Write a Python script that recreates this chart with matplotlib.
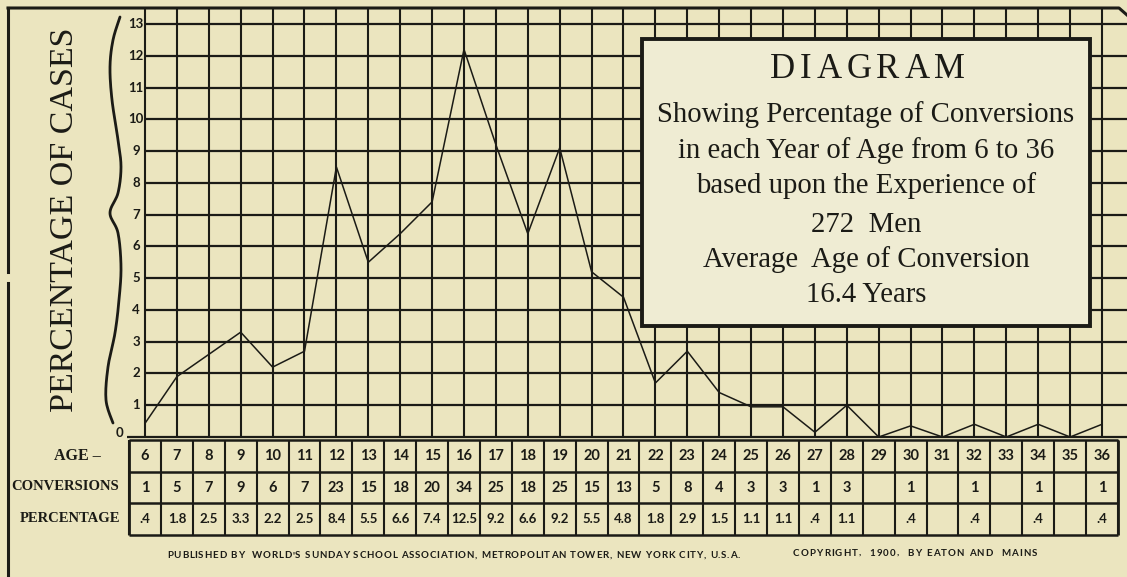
import numpy as np
import matplotlib
matplotlib.use("Agg")
import matplotlib.pyplot as plt
from matplotlib.patches import Rectangle

# ---------------------------------------------------------------- data
ages = list(range(6, 37))
# percentage of cases as drawn by the line
line_pct = [0.43, 1.9, 2.6, 3.3, 2.2, 2.7, 8.5, 5.5, 6.4, 7.4, 12.2, 9.2, 6.4, 9.1, 5.2,
            4.4, 1.7, 2.7, 1.4, 0.95, 0.95, 0.15, 1.0, 0.0, 0.35, 0.0, 0.4, 0.0, 0.4, 0.0, 0.4]
conversions = ["1", "5", "7", "9", "6", "7", "23", "15", "18", "20", "34", "25", "18", "25", "15",
               "13", "5", "8", "4", "3", "3", "1", "3", "", "1", "", "1", "", "1", "", "1"]
percentages = [".4", "1.8", "2.5", "3.3", "2.2", "2.5", "8.4", "5.5", "6.6", "7.4", "12.5", "9.2",
               "6.6", "9.2", "5.5", "4.8", "1.8", "2.9", "1.5", "1.1", "1.1", ".4", "1.1", "",
               ".4", "", ".4", "", ".4", "", ".4"]
y_ticks = list(range(0, 14))
row_labels = ["AGE \u2013", "CONVERSIONS", "PERCENTAGE"]
box_title = "DIAGRAM"
box_lines = ["Showing Percentage of Conversions",
             "in each Year of Age from 6 to 36",
             "based upon the Experience of",
             "272  Men",
             "Average  Age of Conversion",
             "16.4 Years"]
ylabel = "PERCENTAGE OF CASES"
footer_left = "PUBLISHED BY  WORLD'S SUNDAY SCHOOL ASSOCIATION, METROPOLITAN TOWER, NEW YORK CITY, U.S.A."
footer_right = "COPYRIGHT,  1900,  BY EATON AND  MAINS"

# ---------------------------------------------------------------- layout
W, H = 1127, 577
X0_PX, Y0_PX = 145, 437      # pixel of (age 6, 0 %)
CX, CY = 31.9, 31.77         # pixels per year / per percent
PAPER = "#ebe5bf"
BOXFILL = "#efecd3"
INK = "#1b1b16"
SERIF = ["Liberation Serif", "DejaVu Serif"]
SANS = ["Lato", "DejaVu Sans"]

fig = plt.figure(figsize=(W / 100, H / 100), dpi=100, facecolor=PAPER)
ax = fig.add_axes([0, 0, 1, 1])
ax.set_xlim(6 - X0_PX / CX, 6 + (W - X0_PX) / CX)
ax.set_ylim((Y0_PX - H) / CY, Y0_PX / CY)
ax.axis("off")
top_val = (Y0_PX - 8) / CY
right_val = 6 + (W - X0_PX) / CX

# grid
ax.vlines(ages, 0, top_val, color=INK, lw=1.5)
ax.hlines(y_ticks[1:], 6, right_val, color=INK, lw=1.6)
ax.hlines(0, 5.44, right_val, color=INK, lw=1.6)

# curve
ax.plot(ages, line_pct, color=INK, lw=1.1, solid_joinstyle="miter")

# y tick labels
for v in y_ticks:
    if v == 0:
        ax.text(5.2, 0.12, "0", ha="center", va="center", fontsize=9.5,
                fontweight="bold", family=SANS, color=INK)
    else:
        ax.text(5.72, v, str(v), ha="center", va="center", fontsize=9.5,
                fontweight="bold", family=SANS, color=INK)

# table
row_edges = [-0.09, -1.09, -2.09, -3.1]
col_edges = [a - 0.5 for a in ages] + [ages[-1] + 0.5]
ax.vlines(col_edges, row_edges[-1], row_edges[0], color=INK, lw=1.5)
ax.vlines([col_edges[0], col_edges[-1]], row_edges[-1], row_edges[0], color=INK, lw=2)
ax.hlines(row_edges, col_edges[0], col_edges[-1], color=INK, lw=1.8)
rows = [[str(a) for a in ages], conversions, percentages]
for r, vals in enumerate(rows):
    yc = (row_edges[r] + row_edges[r + 1]) / 2
    for a, s in zip(ages, vals):
        ax.text(a, yc, s, ha="center", va="center", fontsize=10.5 if r < 2 else 9.5,
                fontweight="bold", family=SANS, color=INK)

# ---------------------------------------------------------------- decoration in pixel space
deco = fig.add_axes([0, 0, 1, 1])
deco.set_xlim(0, W)
deco.set_ylim(H, 0)
deco.axis("off")
deco.patch.set_alpha(0)
renderer = fig.canvas.get_renderer()


def spaced_text(x_left, y, s, width, **kw):
    # lay the letters of s out one by one so the string spans `width` pixels
    chars = [deco.text(0, y, c, ha="left", va="center", **kw) for c in s]
    widths = [t.get_window_extent(renderer).width if c != " " else None
              for t, c in zip(chars, s)]
    space_w = 0.3 * kw.get("fontsize", 10) * 100 / 72
    widths = [w if w is not None else space_w for w in widths]
    gap = (width - sum(widths)) / max(len(s) - 1, 1)
    x = x_left
    for t, w in zip(chars, widths):
        t.set_x(x)
        x += w + gap


# frame
deco.plot([8, 1119, 1127], [8, 8, 15], color=INK, lw=2.2)
deco.plot([8, 8], [8, 272], color=INK, lw=2.2)
deco.plot([8, 8], [283, 577], color=INK, lw=2.2)

# row labels
for lab, yc, xr, fs in zip(row_labels, [456, 487, 519], [101, 119, 120], [11.5, 10.5, 10.5]):
    deco.text(xr, yc, lab, ha="right", va="center", fontsize=fs, fontweight="bold",
              family=SERIF, color=INK)

# brace
pts = np.array([(120, 17), (113, 40), (110, 67), (112, 100), (118, 140), (121, 167),
                (118, 193), (110, 213), (118, 233), (121, 267), (119, 300), (115, 333),
                (108, 367), (106, 400), (113, 423)], float)
P = np.vstack([pts[0], pts, pts[-1]])
seg = []
for i in range(1, len(P) - 2):
    t = np.linspace(0, 1, 12)[:, None]
    p0, p1, p2, p3 = P[i - 1], P[i], P[i + 1], P[i + 2]
    seg.append(0.5 * ((2 * p1) + (-p0 + p2) * t + (2 * p0 - 5 * p1 + 4 * p2 - p3) * t ** 2
                      + (-p0 + 3 * p1 - 3 * p2 + p3) * t ** 3))
curve = np.vstack(seg)
deco.plot(curve[:, 0], curve[:, 1], color=INK, lw=2.0, solid_capstyle="round")

# y label
deco.text(65, 220, ylabel, rotation=90, ha="center", va="center", fontsize=24.5,
          family=SERIF, color=INK)

# diagram box
deco.add_patch(Rectangle((642, 39), 448, 287, facecolor=BOXFILL, edgecolor=INK, lw=2.8))
spaced_text(770, 70, box_title, 195, fontsize=25, family=SERIF, color=INK)
baselines = [122, 158, 193, 232, 267, 302]
sizes = [20.7, 20.7, 20.7, 20.7, 20.7, 20.7]
for txt, yb, fs in zip(box_lines, baselines, sizes):
    deco.text(866, yb, txt, ha="center", va="baseline", fontsize=fs, family=SERIF, color=INK)

# footer
spaced_text(167, 556, footer_left, 573, fontsize=7, fontweight="bold", family=SANS, color=INK)
spaced_text(793, 553, footer_right, 244, fontsize=7, fontweight="bold", family=SANS, color=INK)

fig.savefig("out.png", dpi=100, facecolor=PAPER)
